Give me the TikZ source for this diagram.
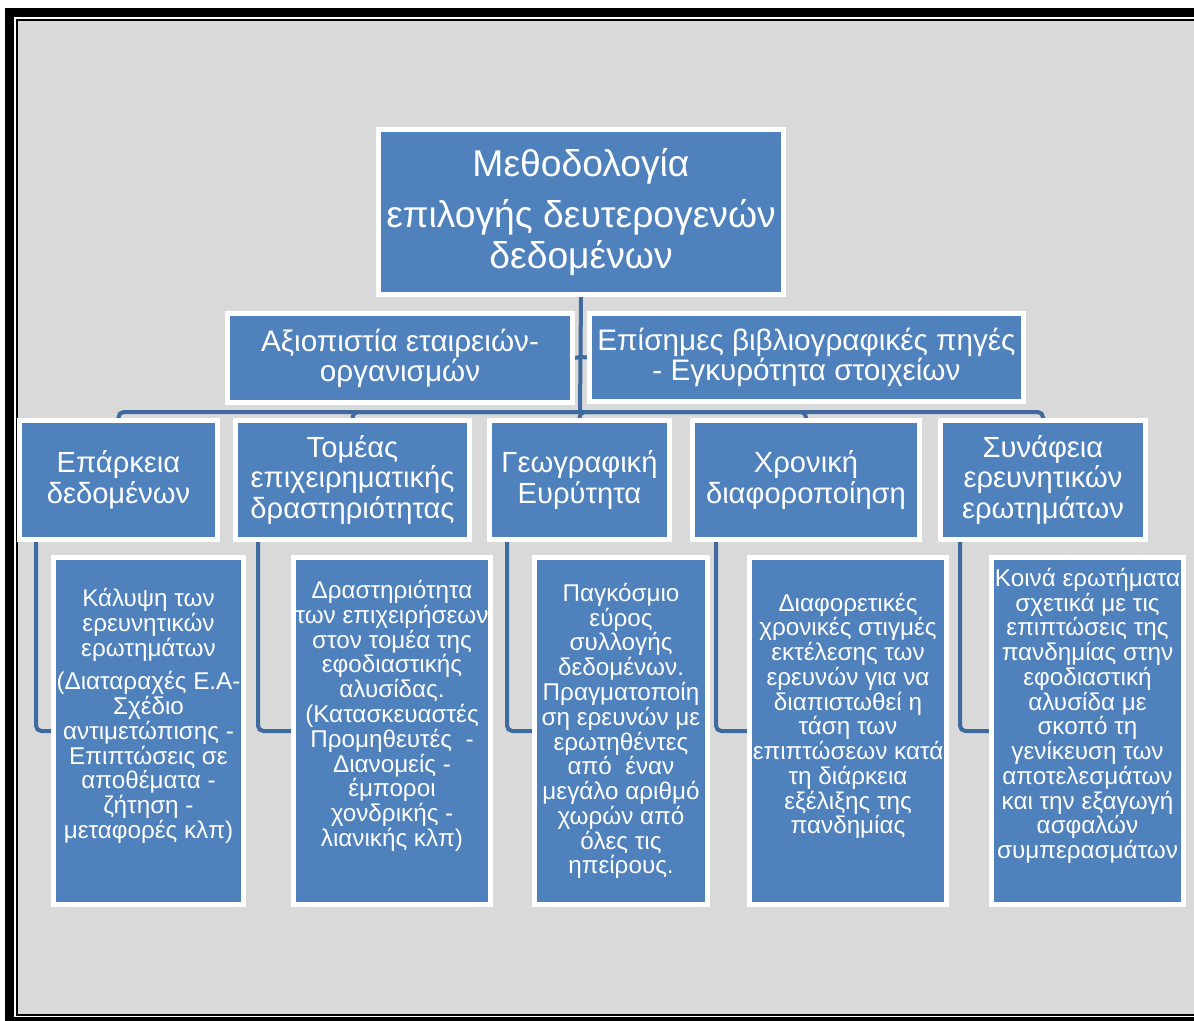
\documentclass[tikz,border=0pt]{standalone}
\usepackage{fontspec}
\setmainfont{Liberation Sans}
\usetikzlibrary{backgrounds}
\definecolor{boxblue}{HTML}{4F81BD}
\definecolor{linkblue}{HTML}{3F6A9D}
\definecolor{panelgray}{HTML}{D9D9D9}
\tikzset{
  box/.style={draw=white, line width=0.1cm, fill=boxblue, text=white, align=center, inner sep=0pt},
  topbox/.style={box, minimum width=8.1cm, minimum height=3.3cm, font=\fontsize{21.2}{23.3}\selectfont},
  midbox/.style={box, minimum height=1.78cm, font=\fontsize{16.9}{17}\selectfont},
  critbox/.style={box, minimum height=2.38cm, font=\fontsize{16.6}{17.6}\selectfont},
  infobox/.style={box, minimum height=6.94cm, font=\fontsize{13.8}{14.1}\selectfont},
  link/.style={draw=linkblue, line width=0.08cm, rounded corners=3pt}
}

\begin{document}
\begin{tikzpicture}[x=0.02cm, y=-0.02cm]
\useasboundingbox (0,0) rectangle (1194,1021);

\node[topbox] (meth) at (581,212) {Μεθοδολογία\\[6pt] επιλογής δευτερογενών\\ δεδομένων};

\node[midbox, minimum width=6.9cm] (reliab) at (400,358) {Αξιοπιστία εταιρειών-\\ οργανισμών};
\node[midbox, minimum width=8.68cm] (sources) at (806.5,357.5) {Επίσημες βιβλιογραφικές πηγές\\ - Εγκυρότητα στοιχείων};

\node[critbox, minimum width=3.96cm] (adeq) at (118.5,480) {Επάρκεια\\ δεδομένων};
\node[critbox, minimum width=4.68cm] (sector) at (352.5,480) {Τομέας\\ επιχειρηματικής\\ δραστηριότητας};
\node[critbox, minimum width=3.6cm] (geo) at (579.5,480) {Γεωγραφική\\ Ευρύτητα};
\node[critbox, minimum width=4.54cm] (timing) at (806,480) {Χρονική\\ διαφοροποίηση};
\node[critbox, minimum width=4.1cm] (relev) at (1043,480) {Συνάφεια\\ ερευνητικών\\ ερωτημάτων};

\node[infobox, minimum width=3.8cm] (adeqinfo) at (148.5,731) {Κάλυψη των\\ ερευνητικών\\ ερωτημάτων\\[5pt] (Διαταραχές Ε.Α-\\ Σχέδιο\\ αντιμετώπισης -\\ Επιπτώσεις σε\\ αποθέματα -\\ ζήτηση -\\ μεταφορές κλπ)\\[6pt]\mbox{}};
\node[infobox, minimum width=3.94cm] (sectorinfo) at (392,731) {Δραστηριότητα\\ των επιχειρήσεων\\ στον τομέα της\\ εφοδιαστικής\\ αλυσίδας.\\ (Κατασκευαστές\\ Προμηθευτές~~-\\ Διανομείς -\\ έμποροι\\ χονδρικής -\\ λιανικής κλπ)\\[6pt]\mbox{}};
\node[infobox, minimum width=3.46cm] (geoinfo) at (621,731) {Παγκόσμιο\\ εύρος\\ συλλογής\\ δεδομένων.\\ Πραγματοποίη\\ ση ερευνών με\\ ερωτηθέντες\\ από~~έναν\\ μεγάλο αριθμό\\ χωρών από\\ όλες τις\\ ηπείρους.};
\node[infobox, minimum width=3.94cm] (timinginfo) at (848,731) {Διαφορετικές\\ χρονικές στιγμές\\ εκτέλεσης των\\ ερευνών για να\\ διαπιστωθεί η\\ τάση των\\ επιπτώσεων κατά\\ τη διάρκεια\\ εξέλιξης της\\ πανδημίας\\[6pt]\mbox{}};
\node[infobox, minimum width=3.84cm] (relevinfo) at (1087.5,731) {Κοινά ερωτήματα\\ σχετικά με τις\\ επιπτώσεις της\\ πανδημίας στην\\ εφοδιαστική\\ αλυσίδα με\\ σκοπό τη\\ γενίκευση των\\ αποτελεσμάτων\\ και την εξαγωγή\\ ασφαλών\\ συμπερασμάτων\\[6pt]\mbox{}};

\begin{scope}[on background layer]
\fill[black] (5,8) rectangle (1250,1030);
\fill[white] (14,17) rectangle (1240,1017);
\fill[black] (16,19) rectangle (1230,1015.5);
\fill[panelgray] (17.5,20.5) rectangle (1220,1014);
% trunk, bus and side ticks
\coordinate (bus) at (580,412);
\coordinate (tick) at (580,357);
\draw[link] (meth.south) -- (bus);
\draw[link] (tick) -- (reliab.east) (tick) -- (sources.west);
\foreach \n in {adeq,sector,geo,timing,relev}
  \draw[link] (bus) -| (\n.north);
\foreach \n/\m/\d in {adeq/adeqinfo/19, sector/sectorinfo/25, geo/geoinfo/20, timing/timinginfo/26, relev/relevinfo/22}
  \draw[link] ([xshift=\d*0.02cm]\n.south west) |- (\m.west);
\end{scope}
\end{tikzpicture}
\end{document}
